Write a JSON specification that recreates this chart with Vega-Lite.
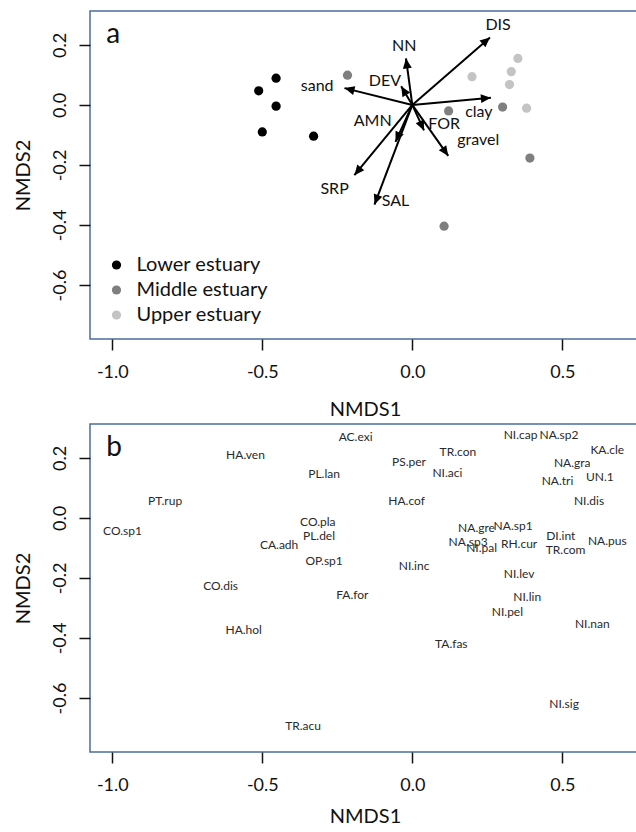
{
  "$schema": "https://vega.github.io/schema/vega-lite/v6.json",
  "background": "white",
  "padding": {"left": 12, "top": 10, "right": 0, "bottom": 0},
  "spacing": 85,
  "bounds": "flush",
  "resolve": {"legend": {"color": "independent"}, "scale": {"color": "independent"}},
  "config": {
    "font": "Lato",
    "locale": {"number": {"decimal": ".", "thousands": ",", "grouping": [3], "currency": ["$", ""], "minus": "-"}},
    "view": {"stroke": "#4a6d9c", "strokeWidth": 1.5},
    "axis": {"grid": false, "domain": false, "tickColor": "#111", "tickSize": 11, "tickWidth": 1.5, "labelFontSize": 18, "labelColor": "#111", "titleFontSize": 20, "titleFontWeight": "normal", "titleColor": "#111", "labelFont": "Lato", "titleFont": "Lato"},
    "axisX": {"labelPadding": 13, "titlePadding": 18},
    "axisY": {"labelAngle": -90, "labelAlign": "center", "labelBaseline": "bottom", "labelPadding": 10, "titlePadding": 18}
  },
  "vconcat": [
    {
      "width": 550,
      "height": 328,
      "layer": [
        {
          "data": {"values": [
            {"zone": "Lower estuary", "x": -0.454, "y": 0.089},
            {"zone": "Lower estuary", "x": -0.512, "y": 0.047},
            {"zone": "Lower estuary", "x": -0.454, "y": -0.004},
            {"zone": "Lower estuary", "x": -0.500, "y": -0.090},
            {"zone": "Lower estuary", "x": -0.329, "y": -0.104},
            {"zone": "Middle estuary", "x": -0.216, "y": 0.099},
            {"zone": "Middle estuary", "x": 0.121, "y": -0.020},
            {"zone": "Middle estuary", "x": 0.301, "y": -0.007},
            {"zone": "Middle estuary", "x": 0.392, "y": -0.177},
            {"zone": "Middle estuary", "x": 0.106, "y": -0.404},
            {"zone": "Upper estuary", "x": 0.199, "y": 0.094},
            {"zone": "Upper estuary", "x": 0.352, "y": 0.155},
            {"zone": "Upper estuary", "x": 0.330, "y": 0.111},
            {"zone": "Upper estuary", "x": 0.324, "y": 0.068},
            {"zone": "Upper estuary", "x": 0.381, "y": -0.011}
          ]},
          "mark": {"type": "circle", "size": 85, "opacity": 1},
          "encoding": {
            "x": {"field": "x", "type": "quantitative", "title": "NMDS1", "scale": {"domain": [-1.0743, 0.759], "nice": false, "zero": false}, "axis": {"values": [-1, -0.5, 0, 0.5], "format": ".1f"}},
            "y": {"field": "y", "type": "quantitative", "title": "NMDS2", "scale": {"domain": [-0.78, 0.313], "nice": false, "zero": false}, "axis": {"values": [-0.6, -0.4, -0.2, 0, 0.2], "format": ".1f"}},
            "color": {"field": "zone", "type": "nominal", "scale": {"domain": ["Lower estuary", "Middle estuary", "Upper estuary"], "range": ["#000000", "#7f7f7f", "#c4c4c4"]},
              "legend": {"title": null, "orient": "none", "legendX": 16.5, "legendY": 244, "padding": 0, "symbolType": "circle", "symbolSize": 85, "symbolStrokeWidth": 0, "labelFontSize": 20, "labelColor": "#111", "labelFont": "Lato", "labelOffset": 10, "rowPadding": 5}}
          }
        },
        {
          "data": {"values": [
            {"var": "DIS", "x": 0.259, "y": 0.225, "lx": 0.286, "ly": 0.265},
            {"var": "NN", "x": -0.021, "y": 0.155, "lx": -0.027, "ly": 0.196},
            {"var": "DEV", "x": -0.037, "y": 0.062, "lx": -0.091, "ly": 0.080},
            {"var": "sand", "x": -0.226, "y": 0.056, "lx": -0.317, "ly": 0.062},
            {"var": "clay", "x": 0.262, "y": 0.024, "lx": 0.222, "ly": -0.022},
            {"var": "FOR", "x": 0.039, "y": -0.085, "lx": 0.106, "ly": -0.065},
            {"var": "gravel", "x": 0.120, "y": -0.170, "lx": 0.220, "ly": -0.118},
            {"var": "AMN", "x": -0.056, "y": -0.123, "lx": -0.132, "ly": -0.054},
            {"var": "SRP", "x": -0.193, "y": -0.234, "lx": -0.259, "ly": -0.280},
            {"var": "SAL", "x": -0.126, "y": -0.332, "lx": -0.056, "ly": -0.319}
          ]},
          "layer": [
            {
              "mark": {"type": "rule", "strokeWidth": 2, "color": "#000000"},
              "encoding": {
                "x": {"field": "x", "type": "quantitative", "title": "NMDS1"},
                "y": {"field": "y", "type": "quantitative", "title": "NMDS2"},
                "x2": {"datum": 0},
                "y2": {"datum": 0}
              }
            },
            {
              "mark": {"type": "point", "shape": "M0,0L0.45,1L-0.45,1Z", "size": 400, "filled": true, "color": "#000000", "opacity": 1, "strokeWidth": 0, "angle": {"expr": "atan2(datum.x, datum.y) * 180 / PI"}},
              "encoding": {
                "x": {"field": "x", "type": "quantitative", "title": "NMDS1"},
                "y": {"field": "y", "type": "quantitative", "title": "NMDS2"}
              }
            },
            {
              "mark": {"type": "text", "fontSize": 16, "color": "#111111", "font": "Lato"},
              "encoding": {
                "x": {"field": "lx", "type": "quantitative", "title": "NMDS1"},
                "y": {"field": "ly", "type": "quantitative", "title": "NMDS2"},
                "text": {"field": "var"}
              }
            }
          ]
        },
        {
          "data": {"values": [{"panel": "a", "x": -1.02, "y": 0.205}]},
          "mark": {"type": "text", "fontSize": 28, "align": "left", "baseline": "alphabetic", "color": "#111111", "font": "Lato"},
          "encoding": {
            "x": {"field": "x", "type": "quantitative", "title": "NMDS1"},
            "y": {"field": "y", "type": "quantitative", "title": "NMDS2"},
            "text": {"field": "panel"}
          }
        }
      ]
    },
    {
      "width": 550,
      "height": 328,
      "layer": [
        {
          "data": {"values": [
            {"sp": "AC.exi", "x": -0.189, "y": 0.269},
            {"sp": "NI.cap", "x": 0.361, "y": 0.277},
            {"sp": "NA.sp2", "x": 0.489, "y": 0.277},
            {"sp": "TR.con", "x": 0.152, "y": 0.221},
            {"sp": "KA.cle", "x": 0.650, "y": 0.227},
            {"sp": "HA.ven", "x": -0.556, "y": 0.210},
            {"sp": "PS.per", "x": -0.011, "y": 0.186},
            {"sp": "NA.gra", "x": 0.533, "y": 0.182},
            {"sp": "NI.aci", "x": 0.117, "y": 0.150},
            {"sp": "PL.lan", "x": -0.294, "y": 0.147},
            {"sp": "UN.1", "x": 0.625, "y": 0.138},
            {"sp": "NA.tri", "x": 0.484, "y": 0.122},
            {"sp": "PT.rup", "x": -0.824, "y": 0.058},
            {"sp": "HA.cof", "x": -0.019, "y": 0.058},
            {"sp": "NI.dis", "x": 0.589, "y": 0.058},
            {"sp": "CO.pla", "x": -0.315, "y": -0.012},
            {"sp": "NA.sp1", "x": 0.336, "y": -0.026},
            {"sp": "NA.gre", "x": 0.214, "y": -0.033},
            {"sp": "CO.sp1", "x": -0.966, "y": -0.044},
            {"sp": "DI.int", "x": 0.495, "y": -0.059},
            {"sp": "PL.del", "x": -0.311, "y": -0.061},
            {"sp": "NA.pus", "x": 0.650, "y": -0.076},
            {"sp": "NA.sp3", "x": 0.186, "y": -0.081},
            {"sp": "RH.cur", "x": 0.356, "y": -0.087},
            {"sp": "CA.adh", "x": -0.444, "y": -0.090},
            {"sp": "NI.pal", "x": 0.231, "y": -0.101},
            {"sp": "TR.com", "x": 0.511, "y": -0.107},
            {"sp": "OP.sp1", "x": -0.294, "y": -0.142},
            {"sp": "NI.inc", "x": 0.006, "y": -0.159},
            {"sp": "NI.lev", "x": 0.356, "y": -0.187},
            {"sp": "CO.dis", "x": -0.639, "y": -0.226},
            {"sp": "FA.for", "x": -0.200, "y": -0.257},
            {"sp": "NI.lin", "x": 0.383, "y": -0.264},
            {"sp": "NI.pel", "x": 0.317, "y": -0.312},
            {"sp": "NI.nan", "x": 0.600, "y": -0.355},
            {"sp": "HA.hol", "x": -0.562, "y": -0.373},
            {"sp": "TA.fas", "x": 0.130, "y": -0.421},
            {"sp": "NI.sig", "x": 0.506, "y": -0.620},
            {"sp": "TR.acu", "x": -0.364, "y": -0.693}
          ]},
          "mark": {"type": "text", "fontSize": 12, "color": "#2a2a2a", "font": "Lato"},
          "encoding": {
            "x": {"field": "x", "type": "quantitative", "title": "NMDS1", "scale": {"domain": [-1.0743, 0.759], "nice": false, "zero": false}, "axis": {"values": [-1, -0.5, 0, 0.5], "format": ".1f", "titlePadding": 12}},
            "y": {"field": "y", "type": "quantitative", "title": "NMDS2", "scale": {"domain": [-0.78, 0.313], "nice": false, "zero": false}, "axis": {"values": [-0.6, -0.4, -0.2, 0, 0.2], "format": ".1f"}},
            "text": {"field": "sp"}
          }
        },
        {
          "data": {"values": [{"panel": "b", "x": -1.02, "y": 0.207}]},
          "mark": {"type": "text", "fontSize": 28, "align": "left", "baseline": "alphabetic", "color": "#111111", "font": "Lato"},
          "encoding": {
            "x": {"field": "x", "type": "quantitative", "title": "NMDS1"},
            "y": {"field": "y", "type": "quantitative", "title": "NMDS2"},
            "text": {"field": "panel"}
          }
        }
      ]
    }
  ]
}
